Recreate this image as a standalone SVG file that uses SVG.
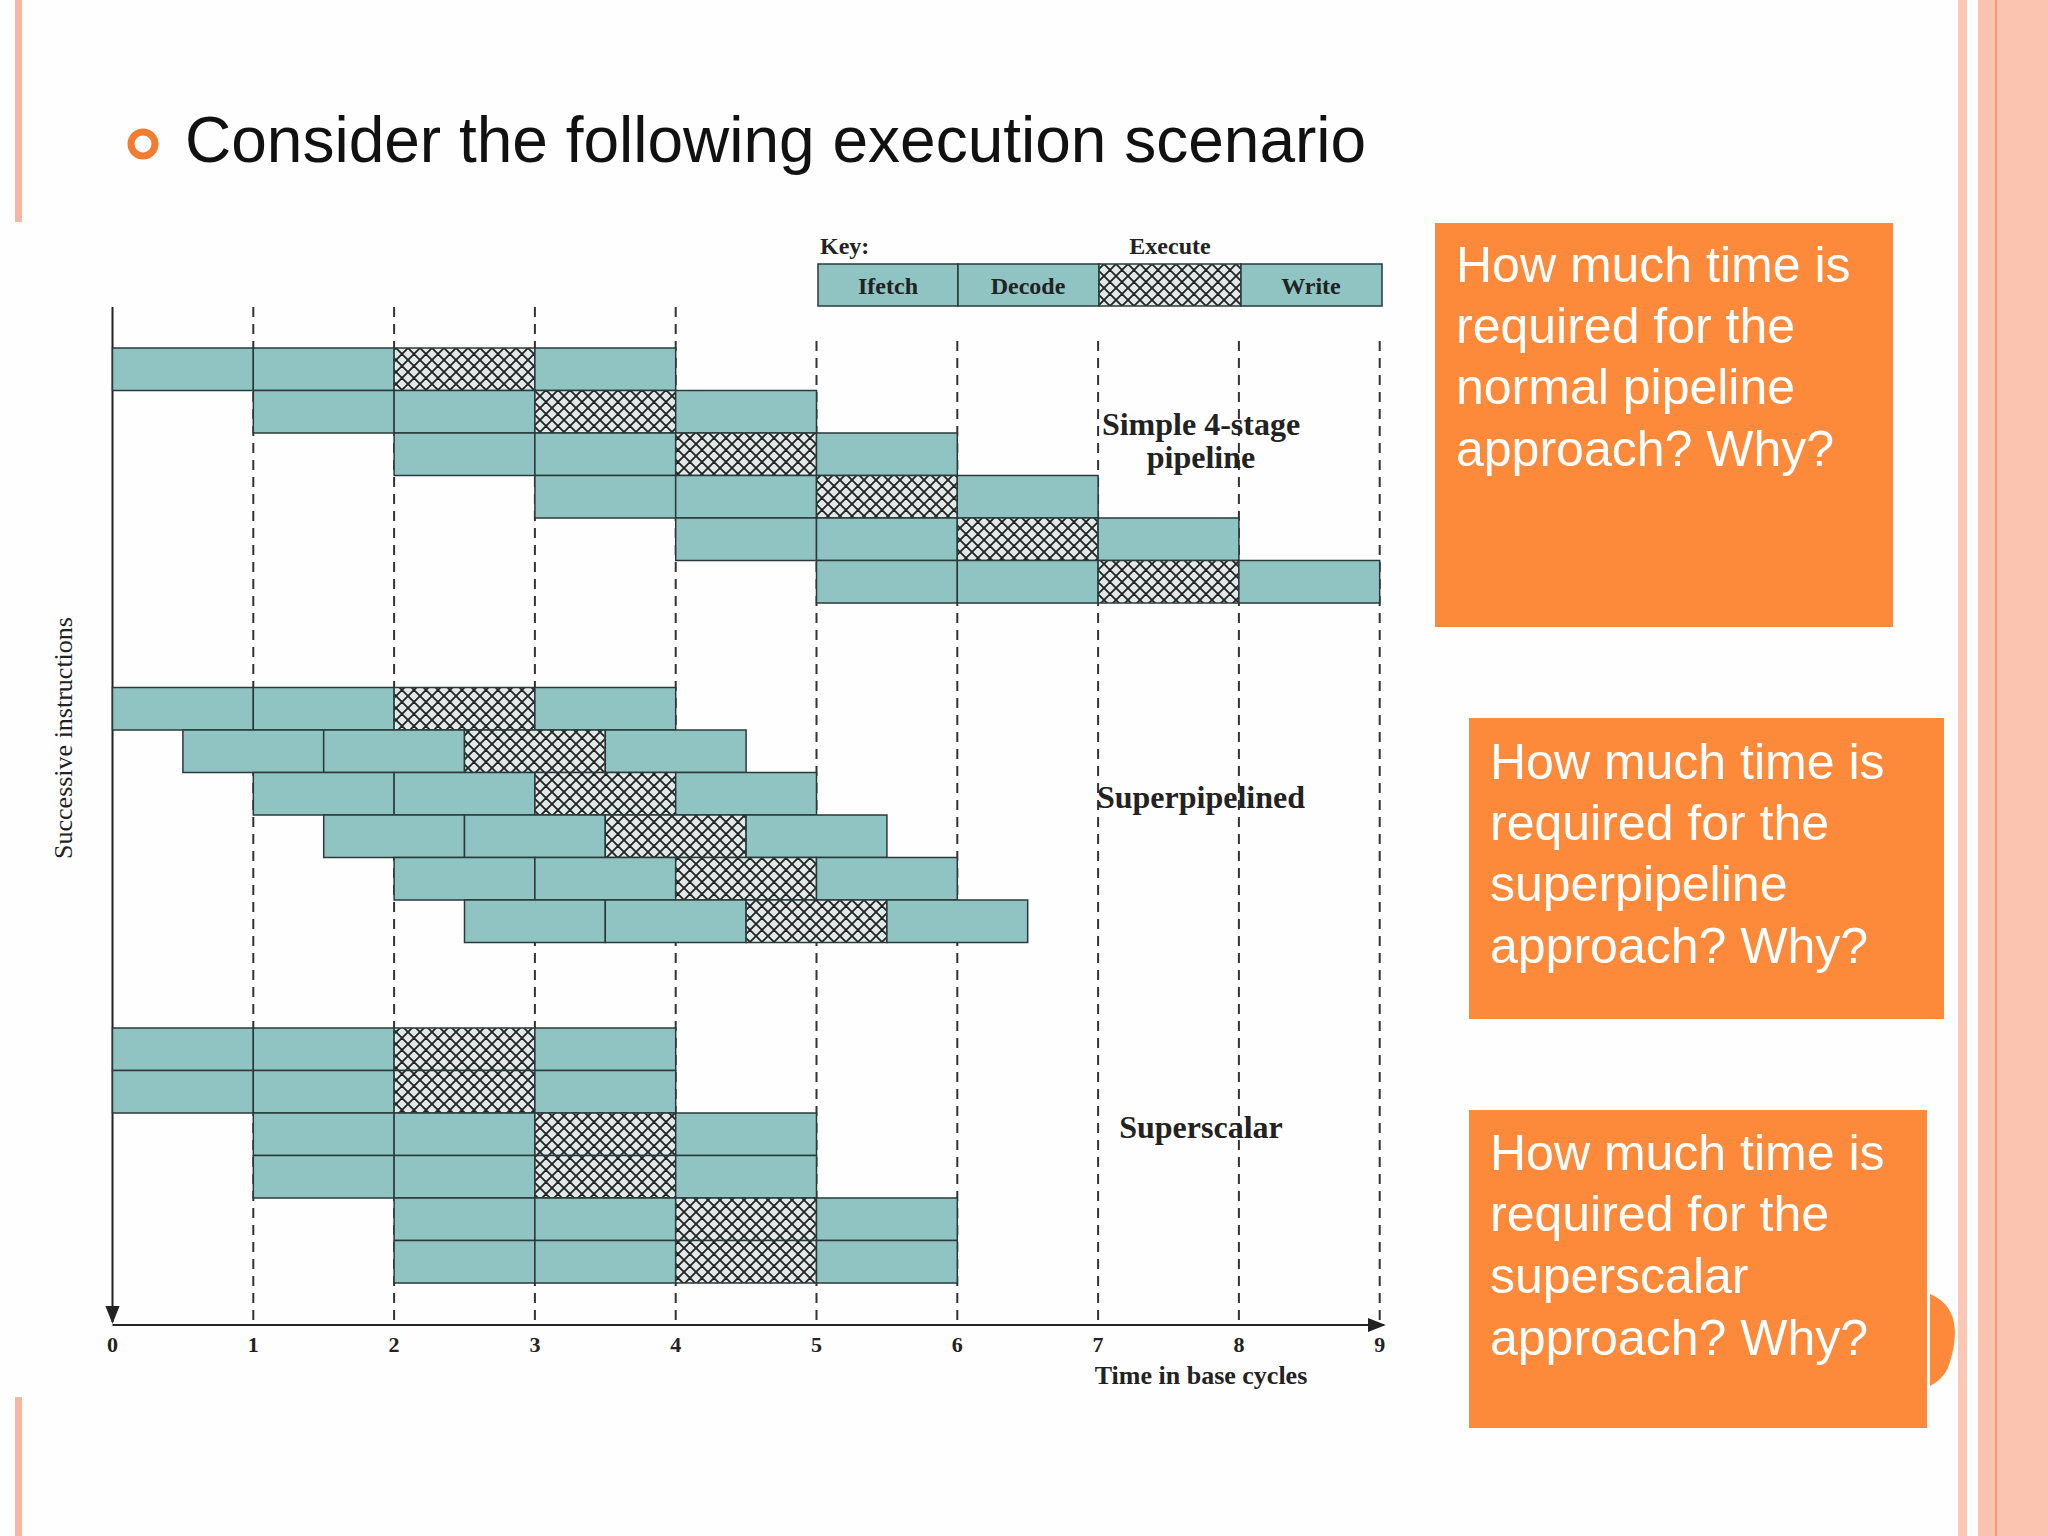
<svg xmlns="http://www.w3.org/2000/svg" width="2048" height="1536" viewBox="0 0 2048 1536">
<defs>
<pattern id="hx" patternUnits="userSpaceOnUse" width="12" height="12">
<rect width="12" height="12" fill="#dfe9e8"/>
<path d="M0,0 L12,12 M12,0 L0,12 M-6,6 L6,18 M6,-6 L18,6 M6,18 L18,6 M-6,6 L6,-6" stroke="#222" stroke-width="1.8"/>
</pattern>
<marker id="ar" viewBox="0 0 10 10" refX="9" refY="5" markerWidth="9" markerHeight="9" orient="auto"><path d="M0,1 L10,5 L0,9 z" fill="#222"/></marker>
</defs>
<style>
.s{fill:#8fc4c2;stroke:#2a3a3a;stroke-width:1.5}
.e{fill:url(#hx);stroke:#2a3a3a;stroke-width:1.5}
.d{stroke:#333;stroke-width:2;stroke-dasharray:10,7}
.l{font-family:"Liberation Serif",serif;font-weight:bold;fill:#222}
.q{font-family:"Liberation Sans",Arial,sans-serif;font-size:50px;fill:#fff}
.o{fill:#fd8a3a}
</style>
<rect width="2048" height="1536" fill="#fefefe"/>
<rect x="15" y="0" width="7" height="222" fill="#f6b6a3"/>
<rect x="15" y="1397" width="7" height="139" fill="#f6b6a3"/>
<rect x="1958" y="0" width="9" height="1536" fill="#fbc8b6"/>
<rect x="1978" y="0" width="70" height="1536" fill="#fbc4b0"/>
<line x1="1996" y1="0" x2="1996" y2="1536" stroke="#f39a78" stroke-width="2"/>
<g id="title">
<circle cx="143" cy="144" r="12" fill="none" stroke="#f47c30" stroke-width="7"/>
<text x="185" y="162" font-family="Liberation Sans,Arial,sans-serif" font-size="64" fill="#111">Consider the following execution scenario</text>
</g>
<g id="grid">
<line class="d" x1="253.3" y1="307" x2="253.3" y2="1325"/>
<line class="d" x1="394.1" y1="307" x2="394.1" y2="1325"/>
<line class="d" x1="534.9" y1="307" x2="534.9" y2="1325"/>
<line class="d" x1="675.7" y1="307" x2="675.7" y2="1325"/>
<line class="d" x1="816.5" y1="341" x2="816.5" y2="1325"/>
<line class="d" x1="957.3" y1="341" x2="957.3" y2="1325"/>
<line class="d" x1="1098.1" y1="341" x2="1098.1" y2="1325"/>
<line class="d" x1="1238.9" y1="341" x2="1238.9" y2="1325"/>
<line class="d" x1="1379.7" y1="341" x2="1379.7" y2="1325"/>
</g>
<g id="connectors">
<line x1="112.5" y1="307" x2="112.5" y2="1322" stroke="#222" stroke-width="2" marker-end="url(#ar)"/>
<line x1="112.5" y1="1325" x2="1384" y2="1325" stroke="#222" stroke-width="2" marker-end="url(#ar)"/>
</g>
<g id="key">
<text class="l" x="820" y="254" font-size="24">Key:</text>
<text class="l" x="1170" y="254" font-size="24" text-anchor="middle">Execute</text>
<rect class="s" x="818" y="264" width="140" height="42"/>
<rect class="s" x="958" y="264" width="141" height="42"/>
<rect class="e" x="1099" y="264" width="142" height="42"/>
<rect class="s" x="1241" y="264" width="141" height="42"/>
<text class="l" x="888" y="294" font-size="24" text-anchor="middle">Ifetch</text>
<text class="l" x="1028" y="294" font-size="24" text-anchor="middle">Decode</text>
<text class="l" x="1311" y="294" font-size="24" text-anchor="middle">Write</text>
</g>
<g id="simple">
<rect class="s" x="112.5" y="348" width="140.8" height="42.5"/><rect class="s" x="253.3" y="348" width="140.8" height="42.5"/><rect class="e" x="394.1" y="348" width="140.8" height="42.5"/><rect class="s" x="534.9" y="348" width="140.8" height="42.5"/>
<rect class="s" x="253.3" y="390.5" width="140.8" height="42.5"/><rect class="s" x="394.1" y="390.5" width="140.8" height="42.5"/><rect class="e" x="534.9" y="390.5" width="140.8" height="42.5"/><rect class="s" x="675.7" y="390.5" width="140.8" height="42.5"/>
<rect class="s" x="394.1" y="433" width="140.8" height="42.5"/><rect class="s" x="534.9" y="433" width="140.8" height="42.5"/><rect class="e" x="675.7" y="433" width="140.8" height="42.5"/><rect class="s" x="816.5" y="433" width="140.8" height="42.5"/>
<rect class="s" x="534.9" y="475.5" width="140.8" height="42.5"/><rect class="s" x="675.7" y="475.5" width="140.8" height="42.5"/><rect class="e" x="816.5" y="475.5" width="140.8" height="42.5"/><rect class="s" x="957.3" y="475.5" width="140.8" height="42.5"/>
<rect class="s" x="675.7" y="518" width="140.8" height="42.5"/><rect class="s" x="816.5" y="518" width="140.8" height="42.5"/><rect class="e" x="957.3" y="518" width="140.8" height="42.5"/><rect class="s" x="1098.1" y="518" width="140.8" height="42.5"/>
<rect class="s" x="816.5" y="560.5" width="140.8" height="42.5"/><rect class="s" x="957.3" y="560.5" width="140.8" height="42.5"/><rect class="e" x="1098.1" y="560.5" width="140.8" height="42.5"/><rect class="s" x="1238.9" y="560.5" width="140.8" height="42.5"/>
<text class="l" x="1201" y="435" font-size="32" text-anchor="middle">Simple 4-stage</text>
<text class="l" x="1201" y="468" font-size="32" text-anchor="middle">pipeline</text>
</g>
<g id="superpipelined">
<rect class="s" x="112.5" y="687.5" width="140.8" height="42.5"/><rect class="s" x="253.3" y="687.5" width="140.8" height="42.5"/><rect class="e" x="394.1" y="687.5" width="140.8" height="42.5"/><rect class="s" x="534.9" y="687.5" width="140.8" height="42.5"/>
<rect class="s" x="182.9" y="730" width="140.8" height="42.5"/><rect class="s" x="323.7" y="730" width="140.8" height="42.5"/><rect class="e" x="464.5" y="730" width="140.8" height="42.5"/><rect class="s" x="605.3" y="730" width="140.8" height="42.5"/>
<rect class="s" x="253.3" y="772.5" width="140.8" height="42.5"/><rect class="s" x="394.1" y="772.5" width="140.8" height="42.5"/><rect class="e" x="534.9" y="772.5" width="140.8" height="42.5"/><rect class="s" x="675.7" y="772.5" width="140.8" height="42.5"/>
<rect class="s" x="323.7" y="815" width="140.8" height="42.5"/><rect class="s" x="464.5" y="815" width="140.8" height="42.5"/><rect class="e" x="605.3" y="815" width="140.8" height="42.5"/><rect class="s" x="746.1" y="815" width="140.8" height="42.5"/>
<rect class="s" x="394.1" y="857.5" width="140.8" height="42.5"/><rect class="s" x="534.9" y="857.5" width="140.8" height="42.5"/><rect class="e" x="675.7" y="857.5" width="140.8" height="42.5"/><rect class="s" x="816.5" y="857.5" width="140.8" height="42.5"/>
<rect class="s" x="464.5" y="900" width="140.8" height="42.5"/><rect class="s" x="605.3" y="900" width="140.8" height="42.5"/><rect class="e" x="746.1" y="900" width="140.8" height="42.5"/><rect class="s" x="886.9" y="900" width="140.8" height="42.5"/>
<text class="l" x="1201" y="808" font-size="32" text-anchor="middle">Superpipelined</text>
</g>
<g id="superscalar">
<rect class="s" x="112.5" y="1028" width="140.8" height="42.5"/><rect class="s" x="253.3" y="1028" width="140.8" height="42.5"/><rect class="e" x="394.1" y="1028" width="140.8" height="42.5"/><rect class="s" x="534.9" y="1028" width="140.8" height="42.5"/>
<rect class="s" x="112.5" y="1070.5" width="140.8" height="42.5"/><rect class="s" x="253.3" y="1070.5" width="140.8" height="42.5"/><rect class="e" x="394.1" y="1070.5" width="140.8" height="42.5"/><rect class="s" x="534.9" y="1070.5" width="140.8" height="42.5"/>
<rect class="s" x="253.3" y="1113" width="140.8" height="42.5"/><rect class="s" x="394.1" y="1113" width="140.8" height="42.5"/><rect class="e" x="534.9" y="1113" width="140.8" height="42.5"/><rect class="s" x="675.7" y="1113" width="140.8" height="42.5"/>
<rect class="s" x="253.3" y="1155.5" width="140.8" height="42.5"/><rect class="s" x="394.1" y="1155.5" width="140.8" height="42.5"/><rect class="e" x="534.9" y="1155.5" width="140.8" height="42.5"/><rect class="s" x="675.7" y="1155.5" width="140.8" height="42.5"/>
<rect class="s" x="394.1" y="1198" width="140.8" height="42.5"/><rect class="s" x="534.9" y="1198" width="140.8" height="42.5"/><rect class="e" x="675.7" y="1198" width="140.8" height="42.5"/><rect class="s" x="816.5" y="1198" width="140.8" height="42.5"/>
<rect class="s" x="394.1" y="1240.5" width="140.8" height="42.5"/><rect class="s" x="534.9" y="1240.5" width="140.8" height="42.5"/><rect class="e" x="675.7" y="1240.5" width="140.8" height="42.5"/><rect class="s" x="816.5" y="1240.5" width="140.8" height="42.5"/>
<text class="l" x="1201" y="1138" font-size="32" text-anchor="middle">Superscalar</text>
</g>
<g id="axis-labels" class="l" font-size="22" text-anchor="middle">
<text x="112.5" y="1352">0</text><text x="253.3" y="1352">1</text><text x="394.1" y="1352">2</text><text x="534.9" y="1352">3</text><text x="675.7" y="1352">4</text><text x="816.5" y="1352">5</text><text x="957.3" y="1352">6</text><text x="1098.1" y="1352">7</text><text x="1238.9" y="1352">8</text><text x="1379.7" y="1352">9</text>
<text x="1201" y="1384" font-size="26">Time in base cycles</text>
<text x="0" y="0" font-size="26" font-weight="normal" transform="translate(72,738) rotate(-90)">Successive instructions</text>
</g>
<g id="q1">
<rect class="o" x="1435" y="223" width="458" height="404"/>
<text class="q" x="1456" y="282">How much time is</text>
<text class="q" x="1456" y="343">required for the</text>
<text class="q" x="1456" y="404">normal pipeline</text>
<text class="q" x="1456" y="466">approach? Why?</text>
</g>
<g id="q2">
<rect class="o" x="1469" y="718" width="475" height="301"/>
<text class="q" x="1490" y="779">How much time is</text>
<text class="q" x="1490" y="840">required for the</text>
<text class="q" x="1490" y="901">superpipeline</text>
<text class="q" x="1490" y="963">approach? Why?</text>
</g>
<g id="q3">
<path class="o" d="M1930,1294 Q1968,1310 1948,1368 Q1942,1380 1930,1386 z"/>
<rect class="o" x="1469" y="1110" width="458" height="318"/>
<text class="q" x="1490" y="1170">How much time is</text>
<text class="q" x="1490" y="1231">required for the</text>
<text class="q" x="1490" y="1293">superscalar</text>
<text class="q" x="1490" y="1355">approach? Why?</text>
</g>
</svg>
